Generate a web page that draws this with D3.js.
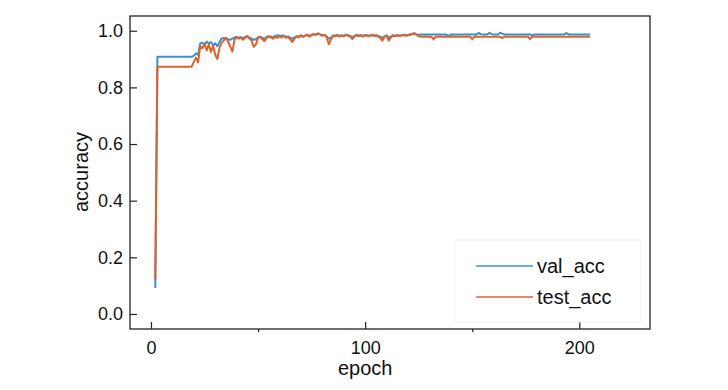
<!DOCTYPE html>
<html><head><meta charset="utf-8">
<script src="https://cdn.jsdelivr.net/npm/d3@7/dist/d3.min.js"></script>
<style>body{margin:0;background:#fff}svg{display:block}text{font-family:"Liberation Sans",Arial,sans-serif;fill:#111}</style>
</head><body><svg id="c" width="728" height="390"></svg>
<script>
const firstEpoch = 2;
const valAcc = [
0.092,
0.908,0.908,0.908,0.908,0.908,0.908,0.908,0.908,0.908,0.908,0.908,0.908,0.908,0.908,0.908,0.908,0.908,
0.912,0.920,0.915,0.955,0.958,0.950,0.962,0.955,0.960,0.948,0.956,0.945,0.960,0.973,0.974,0.973,0.970,0.968,0.972,0.976,
0.978,0.975,0.977,0.974,0.978,0.981,0.976,0.972,0.968,0.970,0.977,0.979,0.975,0.972,0.978,0.981,0.979,0.977,0.982,0.983,
0.983,0.982,0.983,0.979,0.980,0.976,0.972,0.976,0.981,0.979,0.984,0.980,0.983,0.986,0.982,0.985,0.988,0.986,0.990,0.987,
0.984,0.986,0.980,0.972,0.976,0.983,0.983,0.985,0.982,0.984,0.982,0.986,0.984,0.982,0.976,0.982,0.985,0.983,0.984,0.982,
0.985,0.984,0.982,0.986,0.983,0.984,0.982,0.979,0.975,0.980,0.984,0.975,0.979,0.984,0.982,0.985,0.983,0.984,0.986,0.984,
0.985,0.987,0.989,0.991,0.987,0.986,
0.987,0.987,0.987,0.987,0.987,0.987,0.987,0.987,0.987,0.987,0.987,0.987,0.987,0.981,0.987,0.987,0.987,0.987,0.987,0.987,
0.987,0.987,0.987,0.987,0.987,0.987,0.987,0.992,0.988,0.987,0.987,0.987,0.993,0.988,0.987,0.987,0.987,0.993,0.990,0.987,
0.987,0.987,0.987,0.987,0.987,0.987,0.987,0.987,0.987,0.987,0.987,0.987,0.983,0.987,0.987,0.987,0.987,0.987,0.987,0.987,
0.987,0.987,0.987,0.987,0.987,0.987,0.987,0.987,0.992,0.987,0.987,0.987,0.987,0.987,0.987,0.987,0.987,0.987,0.987,0.987
];
const testAcc = [
0.120,
0.873,0.873,0.873,0.873,0.873,0.873,0.873,0.873,0.873,0.873,0.873,0.873,0.873,0.873,0.873,0.873,0.873,
0.890,0.905,0.888,0.945,0.938,0.955,0.930,0.952,0.925,0.948,0.915,0.900,0.940,0.958,0.966,0.975,0.962,0.945,0.926,0.968,
0.978,0.972,0.975,0.968,0.976,0.980,0.972,0.965,0.943,0.952,0.975,0.978,0.970,0.963,0.975,0.980,0.976,0.972,0.978,0.975,
0.980,0.976,0.982,0.975,0.978,0.970,0.960,0.972,0.980,0.976,0.983,0.978,0.982,0.985,0.979,0.984,0.988,0.985,0.991,0.986,
0.982,0.985,0.978,0.952,0.968,0.982,0.980,0.984,0.979,0.983,0.980,0.985,0.982,0.980,0.970,0.980,0.984,0.981,0.983,0.979,
0.984,0.982,0.980,0.985,0.981,0.983,0.980,0.975,0.965,0.978,0.982,0.965,0.976,0.982,0.980,0.984,0.981,0.983,0.985,0.982,
0.984,0.986,0.988,0.991,0.985,0.981,
0.979,0.979,0.980,0.979,0.979,0.978,0.970,0.979,0.979,0.980,0.979,0.979,0.979,0.979,0.979,0.980,0.979,0.979,0.979,0.979,
0.979,0.979,0.979,0.979,0.970,0.979,0.979,0.979,0.979,0.979,0.979,0.979,0.979,0.979,0.979,0.979,0.979,0.979,0.974,0.979,
0.979,0.979,0.979,0.979,0.979,0.979,0.979,0.979,0.979,0.979,0.979,0.971,0.979,0.979,0.979,0.979,0.979,0.979,0.979,0.979,
0.979,0.979,0.979,0.979,0.979,0.979,0.979,0.979,0.979,0.979,0.979,0.979,0.979,0.979,0.979,0.979,0.979,0.979,0.979,0.979
];
const epochs = valAcc.map((d, i) => firstEpoch + i);
const xTicks = [0, 100, 200];
const xMinorTicks = [50, 150];
const yTicks = [0, 0.2, 0.4, 0.6, 0.8, 1.0];
const seriesNames = ["val_acc", "test_acc"];
const colors = ["#3592d2", "#e0622a"];

const svg = d3.select("#c");
const L = 130, T = 16, R = 650, B = 329;
const x = d3.scaleLinear().domain([-9.8, 233]).range([L, R]);
const y = d3.scaleLinear().domain([-0.053, 1.052]).range([B, T]);

// lines
const series = [valAcc, testAcc];
const line = d3.line().x((d, i) => x(epochs[i])).y(d => y(d));
series.forEach((s, k) => {
  svg.append("path").datum(s).attr("d", line)
    .attr("fill", "none").attr("stroke", colors[k]).attr("stroke-width", 2)
    .attr("stroke-linejoin", "round");
});

// axes
const yAxis = d3.axisLeft(y).tickValues(yTicks).tickFormat(d3.format(".1f")).tickSizeInner(-7).tickSizeOuter(0).tickPadding(7);
const gy = svg.append("g").attr("transform", `translate(${L},0)`).call(yAxis);
const xAxis = d3.axisBottom(x).tickValues(xTicks).tickFormat(d3.format("d")).tickSizeInner(-7).tickSizeOuter(0).tickPadding(12);
const gx = svg.append("g").attr("transform", `translate(0,${B})`).call(xAxis);
const xMinor = d3.axisBottom(x).tickValues(xMinorTicks).tickFormat("").tickSizeInner(3).tickSizeOuter(0);
const gxm = svg.append("g").attr("transform", `translate(0,${B})`).call(xMinor);
[gy, gx, gxm].forEach(g => {
  g.select(".domain").remove();
  g.selectAll("line").attr("stroke", "#222").attr("stroke-width", 1.2);
  g.selectAll("text").style("font-size", "18px").attr("fill", "#111");
});

// frame
svg.append("rect").attr("x", L).attr("y", T).attr("width", R - L).attr("height", B - T)
  .attr("fill", "none").attr("stroke", "#222").attr("stroke-width", 1.3);

// axis titles
svg.append("text").attr("x", (x(100))).attr("y", 375).attr("text-anchor", "middle")
  .style("font-size", "20px").text("epoch");
svg.append("text").attr("transform", "translate(88,172) rotate(-90)").attr("text-anchor", "middle")
  .style("font-size", "20px").text("accuracy");

// legend
const lg = svg.append("g");
lg.append("rect").attr("x", 455).attr("y", 240).attr("width", 186).attr("height", 82)
  .attr("fill", "#fff").attr("stroke", "#f2f2f2").attr("stroke-width", 1);
seriesNames.forEach((n, k) => {
  const yy = 266 + k * 31;
  lg.append("line").attr("x1", 476).attr("x2", 533).attr("y1", yy).attr("y2", yy)
    .attr("stroke", colors[k]).attr("stroke-width", 1.6);
  lg.append("text").attr("x", 537).attr("y", yy + 7).style("font-size", "20px").text(n);
});
</script></body></html>
